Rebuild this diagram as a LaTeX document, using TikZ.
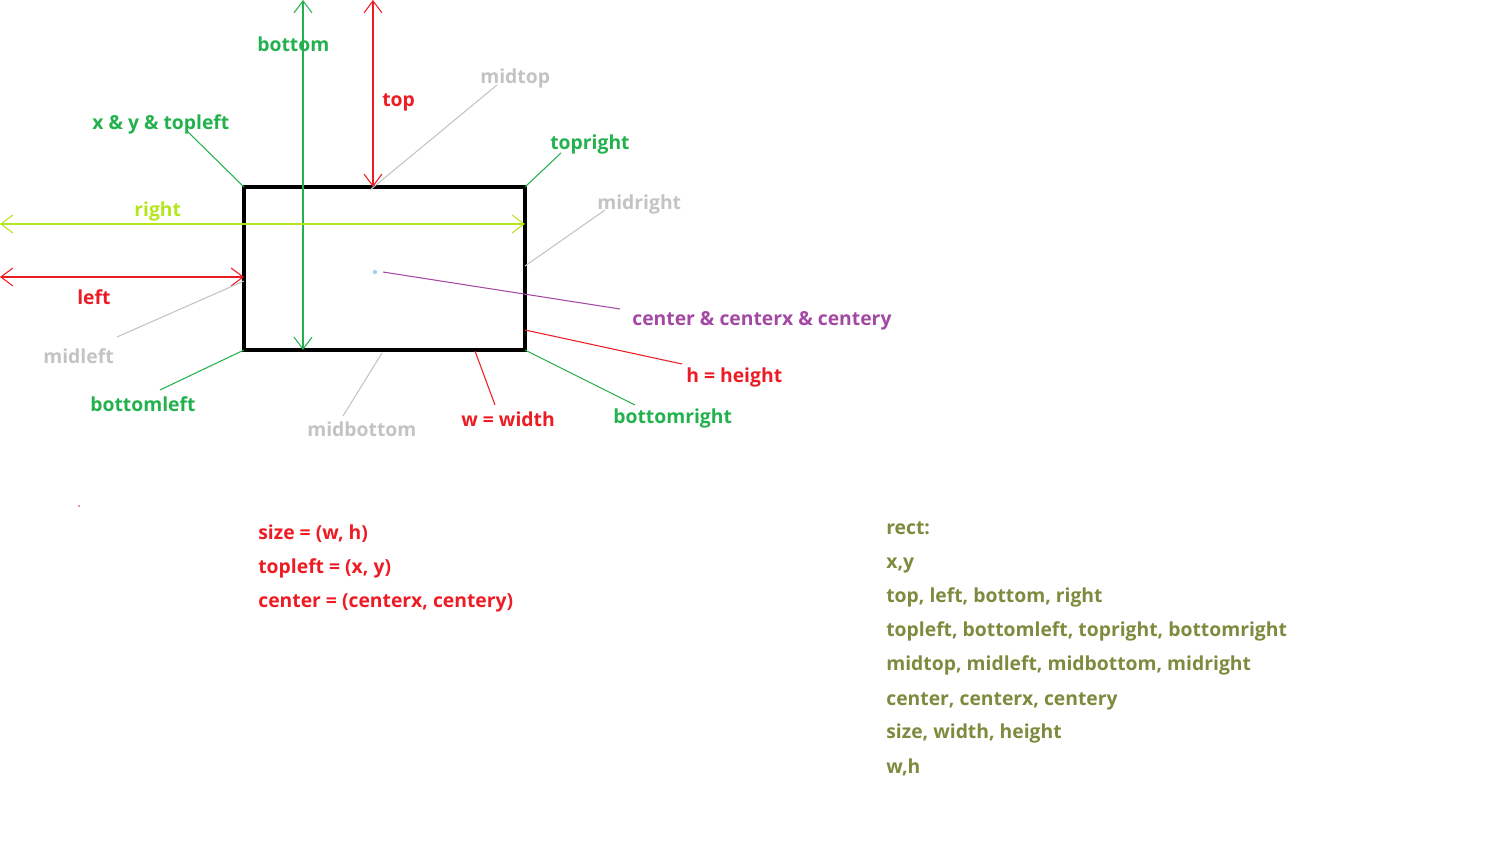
\documentclass[tikz,border=0pt]{standalone}
\usepackage{fontspec}
\setmainfont{Open Sans}
\usetikzlibrary{arrows.meta}
\usepackage{xcolor}
\definecolor{pgreen}{RGB}{34, 177, 76}
\definecolor{pred}{RGB}{237, 28, 36}
\definecolor{plime}{RGB}{181, 230, 29}
\definecolor{pgray}{RGB}{195, 195, 195}
\definecolor{ppurple}{RGB}{163, 73, 164}
\definecolor{pblue}{RGB}{153, 217, 234}
\definecolor{polive}{RGB}{128, 138, 62}

\begin{document}
\begin{tikzpicture}[x=0.02cm, y=-0.02cm,
        lbl/.style={inner sep=0pt, anchor=base west, font=\fontsize{11pt}{13pt}\selectfont\bfseries},
        lead/.style={line width=0.6pt},
        dimline/.style={line width=0.6pt, {Straight Barb[length=2.4mm,width=3.6mm]}-{Straight Barb[length=2.4mm,width=3.6mm]}}]
        \useasboundingbox (0,0) rectangle (1489,844);
        % 長方形
        \node[draw, line width=2.3pt, inner sep=0pt, outer sep=0pt,
              minimum width=5.62cm, minimum height=3.26cm] (rect) at (384.5,268.5) {};
        % 長方形上の点
        \coordinate (ptop) at (373,187);
        \coordinate (pmidtop) at (370,190);
        \coordinate (pbottom) at (303,350);
        \coordinate (pright) at (525,224);
        \coordinate (pleft) at (244,277);
        \coordinate (pmidleft) at (244,281);
        \coordinate (pmidright) at (525,266);
        \coordinate (pheight) at (525,330);
        \coordinate (pwidth) at (475,351);
        \coordinate (pmidbottom) at (382,353);
        \coordinate (pcenter) at (383,272);
        % 矢印の端
        \coordinate (ebottom) at (303,0);
        \coordinate (etop) at (373,0);
        \coordinate (eright) at (0,224);
        \coordinate (eleft) at (0,277);
        % ラベル
        \node[lbl, text=pgreen] (bottom) at (257,52) {bottom};
        \node[lbl, text=pred] (top) at (382,107) {top};
        \node[lbl, text=pgray] (midtop) at (480,84) {midtop};
        \node[lbl, text=pgreen] (topleft) at (92,130) {x \& y \& topleft};
        \node[lbl, text=pgreen] (topright) at (550,150) {topright};
        \node[lbl, text=plime] (right) at (134,217) {right};
        \node[lbl, text=pgray] (midright) at (597,210) {midright};
        \node[lbl, text=pred] (left) at (77,305) {left};
        \node[lbl, text=ppurple] (center) at (632,326) {center \& centerx \& centery};
        \node[lbl, text=pgray] (midleft) at (43,364) {midleft};
        \node[lbl, text=pred] (height) at (686,383) {h = height};
        \node[lbl, text=pgreen] (bottomleft) at (90,412) {bottomleft};
        \node[lbl, text=pgreen] (bottomright) at (613,424) {bottomright};
        \node[lbl, text=pred] (width) at (461,427) {w = width};
        \node[lbl, text=pgray] (midbottom) at (307,437) {midbottom};
        % 引き出し線の端
        \coordinate (ltopleft) at (187,131);
        \coordinate (lmidtop) at (497,85);
        \coordinate (ltopright) at (561,153);
        \coordinate (lmidright) at (605,210);
        \coordinate (lcenter) at (620,309);
        \coordinate (lheight) at (682,364);
        \coordinate (lbottomright) at (635,405);
        \coordinate (lwidth) at (495,405);
        \coordinate (lmidbottom) at (343,416);
        \coordinate (lbottomleft) at (160,390);
        \coordinate (lmidleft) at (117,337);
        % 矢印
        \draw[dimline, pgreen] (ebottom) -- (pbottom);
        \draw[dimline, pred] (etop) -- (ptop);
        \draw[dimline, plime] (eright) -- (pright);
        \draw[dimline, pred] (eleft) -- (pleft);
        % 引き出し線
        \draw[lead, pgreen] (rect.north west) -- (ltopleft);
        \draw[lead, pgray] (pmidtop) -- (lmidtop);
        \draw[lead, pgreen] (rect.north east) -- (ltopright);
        \draw[lead, pgray] (pmidright) -- (lmidright);
        \draw[lead, ppurple] (pcenter) -- (lcenter);
        \draw[lead, pred] (pheight) -- (lheight);
        \draw[lead, pgreen] (rect.south east) -- (lbottomright);
        \draw[lead, pred] (pwidth) -- (lwidth);
        \draw[lead, pgray] (pmidbottom) -- (lmidbottom);
        \draw[lead, pgreen] (rect.south west) -- (lbottomleft);
        \draw[lead, pgray] (pmidleft) -- (lmidleft);
        % 中心の点
        \fill[pblue] (375,272) circle (2.2);
        \fill[pred] (79,506) circle (0.8);
        % 式
        \node[lbl, text=pred] (sizeeq) at (258,540) {size = (w, h)};
        \node[lbl, text=pred] (topleq) at (258,574) {topleft = (x, y)};
        \node[lbl, text=pred] (centeq) at (258,608) {center = (centerx, centery)};
        % rect の属性
        \node[lbl, text=polive] (attr0) at (886,535) {rect:};
        \node[lbl, text=polive] (attr1) at (886,569) {x,y};
        \node[lbl, text=polive] (attr2) at (886,603) {top, left, bottom, right};
        \node[lbl, text=polive] (attr3) at (886,637) {topleft, bottomleft, topright, bottomright};
        \node[lbl, text=polive] (attr4) at (886,671) {midtop, midleft, midbottom, midright};
        \node[lbl, text=polive] (attr5) at (886,705) {center, centerx, centery};
        \node[lbl, text=polive] (attr6) at (886,739) {size, width, height};
        \node[lbl, text=polive] (attr7) at (886,773) {w,h};
    \end{tikzpicture}
\end{document}
